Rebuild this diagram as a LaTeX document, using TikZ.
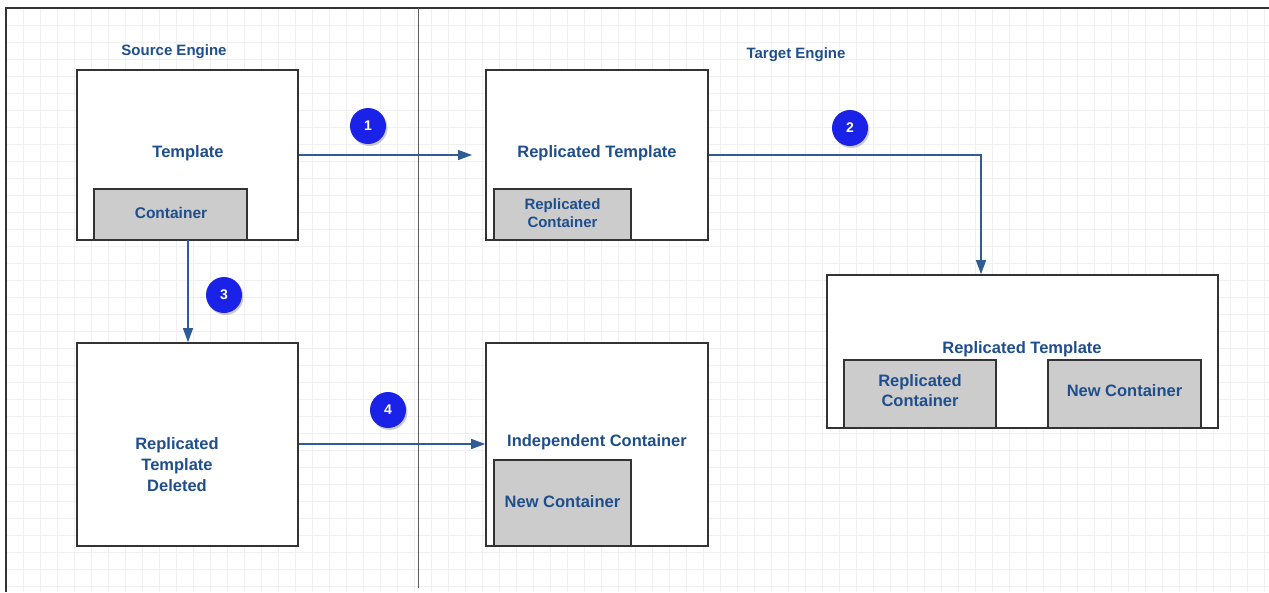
\documentclass[tikz,border=0pt]{standalone}
\usepackage{fontspec}
\setmainfont{Liberation Sans}
\usetikzlibrary{arrows.meta,shadows}
\definecolor{txt}{HTML}{1F4E8C}
\definecolor{arr}{HTML}{2F5C94}
\definecolor{boxgray}{HTML}{CCCCCC}
\definecolor{bord}{HTML}{333333}
\definecolor{grid}{HTML}{F0F0F0}
\definecolor{badge}{HTML}{1A22E8}
\tikzset{
  lbl/.style={text=txt,font=\bfseries\fontsize{16.5}{21}\selectfont,align=center},
  hdr/.style={text=txt,font=\bfseries\fontsize{15}{18}\selectfont},
  outer/.style={draw=bord,line width=1.6pt,fill=white,inner sep=0pt},
  inner/.style={draw=bord,line width=1.6pt,fill=boxgray,inner sep=0pt},
  conn/.style={draw=arr,line width=1.3pt,-{Triangle[length=14pt,width=10pt]}},
  badgec/.style={circle,fill=badge,text=white,font=\bfseries\fontsize{14}{16}\selectfont,minimum size=36pt,inner sep=0pt,drop shadow={shadow xshift=1.5pt,shadow yshift=-2pt,opacity=0.4}},
}
\begin{document}
\begin{tikzpicture}[x=1pt,y=-1pt]
\useasboundingbox (0,0) rectangle (1269,592);
\fill[white] (0,0) rectangle (1269,592);
% grid
\foreach \i in {0,...,74} {\draw[grid,line width=0.8pt] (6+\i*17,8) -- (6+\i*17,592);}
\foreach \j in {0,...,34} {\draw[grid,line width=0.8pt] (6,8+\j*17) -- (1269,8+\j*17);}
% frame
\draw[bord,line width=1.8pt] (6,592) -- (6,8) -- (1269,8);
\draw[bord!80,line width=1pt] (418,8) -- (418,588);
% headers
\node[hdr] (srcE) at (174,52) {Source Engine};
\node[hdr] (tgtE) at (796,55) {Target Engine};
% boxes
\node[outer,minimum width=221pt,minimum height=170pt] (tpl) at (187.5,155) {};
\node[lbl] at (188,153) {Template};
\node[inner,minimum width=153pt,minimum height=51pt] (cont) at (170.5,214.5) {};
\node[lbl,font=\bfseries\fontsize{15.5}{18}\selectfont] at (171,213) {Container};

\node[outer,minimum width=222pt,minimum height=170pt] (rtpl) at (597,155) {};
\node[lbl] at (597,153) {Replicated Template};
\node[inner,minimum width=137pt,minimum height=51pt] (rcont) at (562.5,214.5) {};
\node[lbl,font=\bfseries\fontsize{15}{18}\selectfont] at (562.5,213) {Replicated\\Container};

\node[outer,minimum width=391pt,minimum height=153pt] (rtpl2) at (1022.5,351.5) {};
\node[lbl] at (1022,349) {Replicated Template};
\node[inner,minimum width=152pt,minimum height=68pt] (rc2) at (920,394) {};
\node[lbl,font=\bfseries\fontsize{16.5}{20}\selectfont] at (920,391) {Replicated\\Container};
\node[inner,minimum width=153pt,minimum height=68pt] (nc2) at (1124.5,394) {};
\node[lbl] at (1124.5,391) {New Container};

\node[outer,minimum width=221pt,minimum height=203pt] (del) at (187.5,444.5) {};
\node[lbl] at (177,465) {Replicated\\Template\\Deleted};

\node[outer,minimum width=222pt,minimum height=203pt] (ind) at (597,444.5) {};
\node[lbl] at (597,442) {Independent Container};
\node[inner,minimum width=137pt,minimum height=86pt] (nc) at (562.5,503) {};
\node[lbl] at (562.5,502) {New Container};

% connectors
\coordinate (a1e) at (472,155);
\draw[conn] (tpl.east |- 0,155) -- (a1e);
\draw[conn] (rtpl.east |- 0,155) -| (rtpl2.north -| 981,0);
\draw[conn] (188,240) -- (del.north -| 188,0);
\draw[conn] (del.east |- 0,444) -- (ind.west |- 0,444);
% badges
\node[badgec] (b1) at (368,126) {1};
\node[badgec] (b2) at (850,128) {2};
\node[badgec] (b3) at (224,295) {3};
\node[badgec] (b4) at (388,410) {4};
\end{tikzpicture}
\end{document}
